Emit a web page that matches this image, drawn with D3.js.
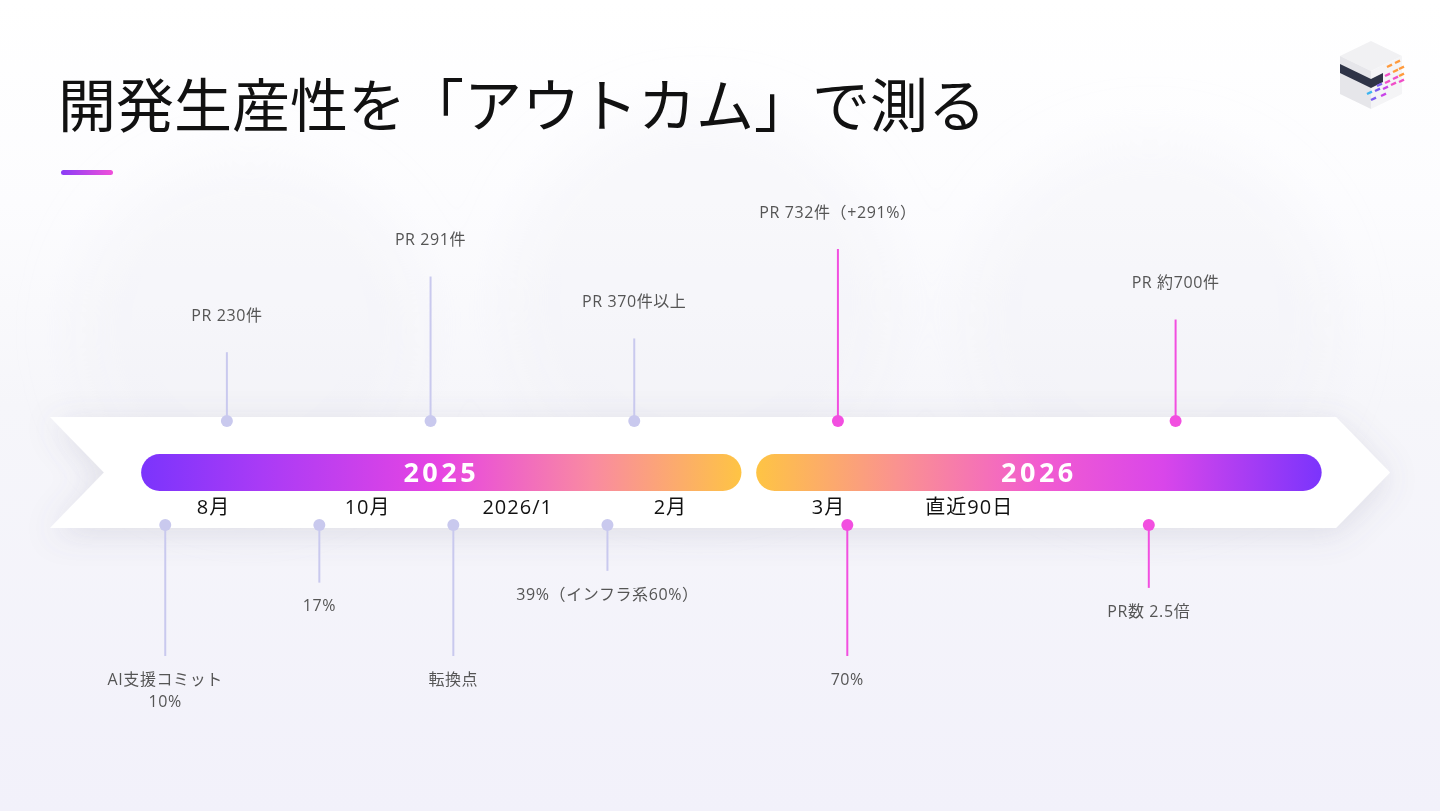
<!DOCTYPE html>
<html>
<head>
<meta charset="utf-8">
<script src="https://cdn.jsdelivr.net/npm/d3@7"></script>
<style>
  html, body { margin: 0; padding: 0; background: #fff; }
  svg { display: block; }
  text { font-family: "Open Sans", "Noto Sans CJK JP", sans-serif; }
</style>
</head>
<body>
<svg id="chart" width="1440" height="811"></svg>
<script>
// ---- data ----
var title = "開発生産性を「アウトカム」で測る";

// year segments on the timeline (start / end in timeline units 0..100)
var yearLabels = ["2025", "2026"];
var yearStart = [6.8, 52.7];
var yearEnd = [51.6, 94.9];

// month ticks under the bars
var monthLabels = ["8月", "10月", "2026/1", "2月", "3月", "直近90日"];
var monthAt = [12.2, 23.7, 34.9, 46.3, 58.1, 68.6];

// events above the timeline (PR counts)
var topLabels = ["PR 230件", "PR 291件", "PR 370件以上", "PR 732件（+291%）", "PR 約700件"];
var topAt = [13.2, 28.4, 43.6, 58.8, 84.0];
var topYear = ["2025", "2025", "2025", "2026", "2026"];
var topStem = [0.40, 0.84, 0.48, 1.00, 0.59];

// events below the timeline (AI assisted ratio etc.)
var bottomLabels = [["AI支援コミット", "10%"], ["17%"], ["転換点"], ["39%（インフラ系60%）"], ["70%"], ["PR数 2.5倍"]];
var bottomAt = [8.6, 20.1, 30.1, 41.6, 59.5, 82.0];
var bottomYear = ["2025", "2025", "2025", "2025", "2026", "2026"];
var bottomStem = [1.00, 0.44, 1.00, 0.35, 1.00, 0.48];

// ---- layout ----
var W = 1440, H = 811;
var svg = d3.select("#chart");
var defs = svg.append("defs");

var x = d3.scaleLinear().domain([0, 100]).range([50, 1390]);
var stemTop = d3.scaleLinear().domain([0, 1]).range([0, 172]);
var stemBottom = d3.scaleLinear().domain([0, 1]).range([0, 131]);
var pinColor = d3.scaleOrdinal().domain(["2025", "2026"]).range(["#c9c9ee", "#f24fe0"]);

var bandTop = 417, bandBottom = 528, bandMid = (bandTop + bandBottom) / 2;
var barTop = 454, barH = 37;
var dotTopY = 421, dotBottomY = 525;

// background
var bg = defs.append("linearGradient").attr("id", "bg").attr("x1", 0).attr("y1", 0).attr("x2", 0).attr("y2", 1);
bg.append("stop").attr("offset", "0").attr("stop-color", "#ffffff");
bg.append("stop").attr("offset", "0.25").attr("stop-color", "#fcfcfe");
bg.append("stop").attr("offset", "0.5").attr("stop-color", "#f6f6fa");
bg.append("stop").attr("offset", "1").attr("stop-color", "#f2f1fa");
svg.append("rect").attr("width", W).attr("height", H).attr("fill", "url(#bg)");

// faint watermark blobs (upper half only)
var blur = defs.append("filter").attr("id", "soft").attr("x", "-50%").attr("y", "-50%").attr("width", "200%").attr("height", "200%");
blur.append("feGaussianBlur").attr("stdDeviation", 30);
var blobs = [[250, 330, 170], [700, 300, 190], [1150, 320, 180]];
svg.append("g").attr("filter", "url(#soft)").selectAll("circle").data(blobs).enter()
    .append("circle")
    .attr("cx", function (d) { return d[0]; })
    .attr("cy", function (d) { return d[1]; })
    .attr("r", function (d) { return d[2]; })
    .attr("fill", "#efeef5")
    .attr("opacity", 0.3);

// title
svg.append("text")
    .attr("x", 58).attr("y", 127)
    .attr("font-family", "'Noto Sans CJK JP', sans-serif")
    .attr("font-size", 58)
    .attr("fill", "#111")
    .text(title);

var accent = defs.append("linearGradient").attr("id", "accent");
accent.append("stop").attr("offset", "0").attr("stop-color", "#8a3cf6");
accent.append("stop").attr("offset", "1").attr("stop-color", "#f050da");
svg.append("rect").attr("x", 61).attr("y", 170).attr("width", 52).attr("height", 5)
    .attr("rx", 2.5).attr("fill", "url(#accent)");

// logo (isometric cube)
var logo = svg.append("g").attr("transform", "translate(1371,74)");
logo.append("polygon").attr("points", "-31,-18 0,-33 31,-18 0,-3").attr("fill", "#f1f1f3");
logo.append("polygon").attr("points", "-31,-18 0,-3 0,35 -31,20").attr("fill", "#e6e6ea");
logo.append("polygon").attr("points", "0,-3 31,-18 31,20 0,35").attr("fill", "#f4f4f6");
logo.append("polygon").attr("points", "-31,-10 0,5 0,14 -31,-1").attr("fill", "#2f3447");
logo.append("polygon").attr("points", "0,5 12,-1 12,8 0,14").attr("fill", "#2f3447");
var dashColors = ["#ff9a3c", "#f04ec8", "#c944e8", "#7b5cf0", "#3cb4f0"];
var dashes = [[16, -7, 0], [24, -11, 0], [14, 2, 1], [22, -2, 0], [28, -5, 0], [6, 12, 3], [14, 9, 1], [22, 5, 1], [28, 2, 0],
    [-4, 20, 4], [4, 17, 3], [12, 15, 2], [20, 11, 1], [28, 8, 1], [0, 26, 3], [10, 22, 2]];
logo.selectAll("line.dash").data(dashes).enter().append("line")
    .attr("x1", function (d) { return d[0]; })
    .attr("y1", function (d) { return d[1]; })
    .attr("x2", function (d) { return d[0] + 5; })
    .attr("y2", function (d) { return d[1] - 2.4; })
    .attr("stroke", function (d) { return dashColors[d[2]]; })
    .attr("stroke-width", 2.4);

// band with shadow
var shadow = defs.append("filter").attr("id", "shadow").attr("x", "-10%").attr("y", "-60%").attr("width", "120%").attr("height", "220%");
shadow.append("feDropShadow").attr("dx", 0).attr("dy", 6).attr("stdDeviation", 16)
    .attr("flood-color", "#6a6a8a").attr("flood-opacity", 0.16);

var notch = 54;
var bandPath = d3.path();
bandPath.moveTo(x(0), bandTop);
bandPath.lineTo(x(100) - notch, bandTop);
bandPath.lineTo(x(100), bandMid);
bandPath.lineTo(x(100) - notch, bandBottom);
bandPath.lineTo(x(0), bandBottom);
bandPath.lineTo(x(0) + notch, bandMid);
bandPath.closePath();
svg.append("path").attr("d", bandPath.toString()).attr("fill", "#ffffff").attr("filter", "url(#shadow)");

// year bars
var g25 = defs.append("linearGradient").attr("id", "grad2025");
[["0", "#7b34fc"], ["0.2", "#a93bf6"], ["0.5", "#e745e2"], ["0.75", "#f98aa2"], ["1", "#fec444"]].forEach(function (s) {
    g25.append("stop").attr("offset", s[0]).attr("stop-color", s[1]);
});
var g26 = defs.append("linearGradient").attr("id", "grad2026");
[["0", "#fec444"], ["0.25", "#fa9290"], ["0.5", "#f25cd0"], ["0.72", "#d946ea"], ["1", "#7b34fc"]].forEach(function (s) {
    g26.append("stop").attr("offset", s[0]).attr("stop-color", s[1]);
});

var bars = svg.append("g").selectAll("g").data(yearLabels).enter().append("g");
bars.append("rect")
    .attr("x", function (d, i) { return x(yearStart[i]); })
    .attr("y", barTop)
    .attr("width", function (d, i) { return x(yearEnd[i]) - x(yearStart[i]); })
    .attr("height", barH)
    .attr("rx", barH / 2)
    .attr("fill", function (d) { return "url(#grad" + d + ")"; });
bars.append("text")
    .attr("x", function (d, i) { return (x(yearStart[i]) + x(yearEnd[i])) / 2; })
    .attr("y", barTop + barH / 2)
    .attr("dy", "0.36em")
    .attr("text-anchor", "middle")
    .attr("font-family", "'DejaVu Sans', sans-serif")
    .attr("font-size", 27)
    .attr("font-weight", "bold")
    .attr("letter-spacing", 3.5)
    .attr("fill", "#ffffff")
    .text(function (d) { return d; });

// month ticks
svg.append("g").selectAll("text").data(monthLabels).enter().append("text")
    .attr("x", function (d, i) { return x(monthAt[i]); })
    .attr("y", 507)
    .attr("dy", "0.36em")
    .attr("text-anchor", "middle")
    .attr("font-size", 20)
    .attr("letter-spacing", 1)
    .attr("fill", "#111")
    .text(function (d) { return d; });

// top pins
var tops = svg.append("g").selectAll("g").data(topLabels).enter().append("g");
tops.append("line")
    .attr("x1", function (d, i) { return x(topAt[i]); })
    .attr("x2", function (d, i) { return x(topAt[i]); })
    .attr("y1", dotTopY)
    .attr("y2", function (d, i) { return dotTopY - stemTop(topStem[i]); })
    .attr("stroke", function (d, i) { return pinColor(topYear[i]); })
    .attr("stroke-width", 2);
tops.append("circle")
    .attr("cx", function (d, i) { return x(topAt[i]); })
    .attr("cy", dotTopY)
    .attr("r", 6)
    .attr("fill", function (d, i) { return pinColor(topYear[i]); });
tops.append("text")
    .attr("x", function (d, i) { return x(topAt[i]); })
    .attr("y", function (d, i) { return dotTopY - stemTop(topStem[i]) - 37; })
    .attr("dy", "0.36em")
    .attr("text-anchor", "middle")
    .attr("font-size", 16)
    .attr("letter-spacing", 0.6)
    .attr("fill", "#555")
    .text(function (d) { return d; });

// bottom pins
var bottoms = svg.append("g").selectAll("g").data(bottomLabels).enter().append("g");
bottoms.append("line")
    .attr("x1", function (d, i) { return x(bottomAt[i]); })
    .attr("x2", function (d, i) { return x(bottomAt[i]); })
    .attr("y1", dotBottomY)
    .attr("y2", function (d, i) { return dotBottomY + stemBottom(bottomStem[i]); })
    .attr("stroke", function (d, i) { return pinColor(bottomYear[i]); })
    .attr("stroke-width", 2);
bottoms.append("circle")
    .attr("cx", function (d, i) { return x(bottomAt[i]); })
    .attr("cy", dotBottomY)
    .attr("r", 6)
    .attr("fill", function (d, i) { return pinColor(bottomYear[i]); });
bottoms.each(function (lines, i) {
    var t = d3.select(this).append("text")
        .attr("text-anchor", "middle")
        .attr("font-size", 16)
        .attr("letter-spacing", 0.6)
        .attr("fill", "#555");
    lines.forEach(function (s, k) {
        t.append("tspan")
            .attr("x", x(bottomAt[i]))
            .attr("y", dotBottomY + stemBottom(bottomStem[i]) + 23 + k * 22)
            .attr("dy", "0.36em")
            .text(s);
    });
});
</script>
</body>
</html>
